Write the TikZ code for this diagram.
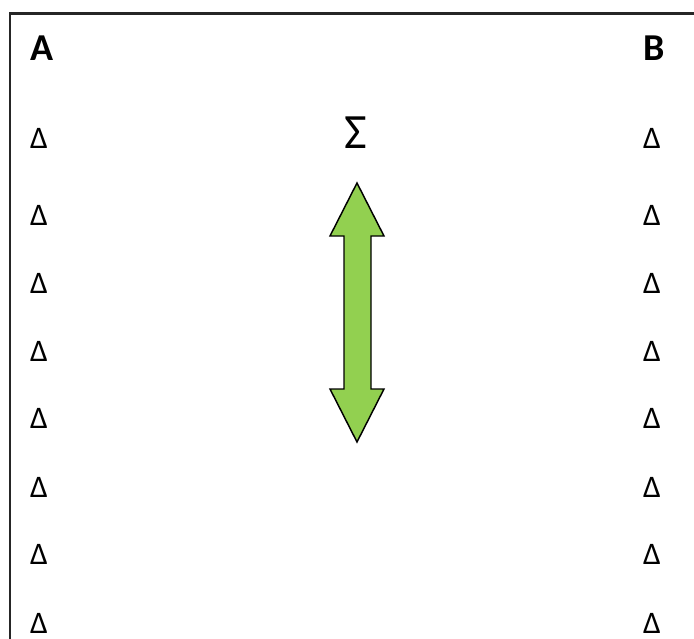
\documentclass[tikz,border=0pt]{standalone}
\usepackage{fontspec}
\setmainfont{Carlito}
\definecolor{arrowgreen}{HTML}{92D050}
\begin{document}
\begin{tikzpicture}[x=0.75pt,y=-0.75pt,
  lbl/.style={font=\fontsize{28.5}{30}\selectfont\bfseries, inner sep=0pt, anchor=base},
  dlt/.style={font=\fontsize{23.5}{25}\selectfont, inner sep=0pt, anchor=base},
  sig/.style={font=\fontsize{37}{39}\selectfont, inner sep=0pt, anchor=base}]
\useasboundingbox (0,0) rectangle (694,639);
\draw[line width=1.6pt, black!85] (10,645) -- (10,13.5) -- (700,13.5);
\node[lbl] (A) at (41.7,60.5) {A};
\node[lbl] (B) at (654,60.5) {B};
\node[sig] (S) at (356,148.5) {Σ};
\foreach \i/\y in {1/148.3,2/225.7,3/293,4/361,5/428,6/497,7/564,8/633}{
  \node[dlt] (L\i) at (39,\y) {Δ};
  \node[dlt] (R\i) at (652,\y) {Δ};
}
\draw[fill=arrowgreen, draw=black, line width=1.1pt, line join=miter]
  (357,183) -- (384,236) -- (371,236) -- (371,389) -- (384,389) -- (357,442)
  -- (330,389) -- (344,389) -- (344,236) -- (330,236) -- cycle;
\end{tikzpicture}
\end{document}
